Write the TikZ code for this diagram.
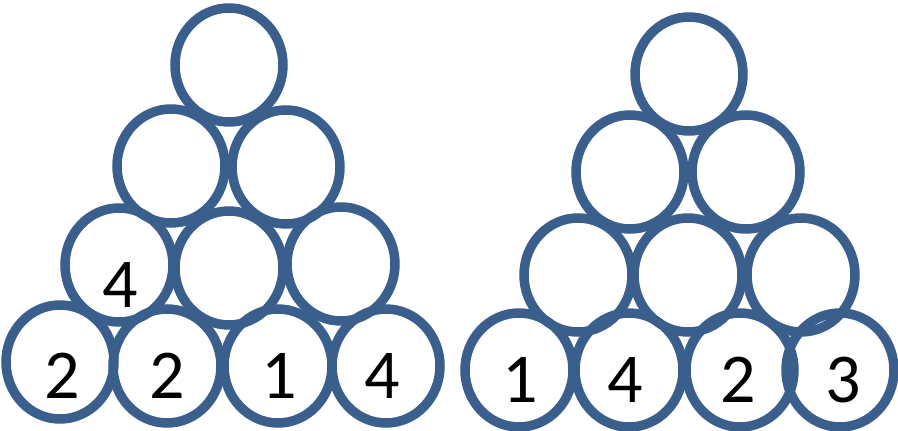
\documentclass[tikz,border=0pt]{standalone}
\usepackage{fontspec}
\setmainfont{Carlito}
\usetikzlibrary{shapes.geometric}
\definecolor{ballblue}{RGB}{58,95,140}
\tikzset{
  ball/.style={ellipse, draw=ballblue, line width=9.5pt, minimum width=108pt, minimum height=114pt, inner sep=0pt, outer sep=0pt},
  num/.style={inner sep=0pt, font=\fontsize{70}{70}\selectfont, text=black}
}
\begin{document}
\begin{tikzpicture}[x=1pt,y=-1pt]
\useasboundingbox (0,0) rectangle (898,431);
% left pyramid
\node[ball] (La) at (229,65) {};
\node[ball] (Lb1) at (171,166) {};
\node[ball] (Lb2) at (286,167) {};
\node[ball] (Lc1) at (119,265) {};
\node[ball] (Lc2) at (229,268) {};
\node[ball] (Lc3) at (341,264) {};
\node[ball] (Ld1) at (60,362) {};
\node[ball] (Ld2) at (167,366) {};
\node[ball] (Ld3) at (278,366) {};
\node[ball] (Ld4) at (386,366) {};
\node[num] (tLc1) at (120,285) {4};
\node[num] (tLd1) at (62,376) {2};
\node[num] (tLd2) at (167,376) {2};
\node[num] (tLd3) at (279,376) {1};
\node[num] (tLd4) at (382,376) {4};
% right pyramid
\node[ball] (Ra) at (689,74) {};
\node[ball] (Rb1) at (630,172) {};
\node[ball] (Rb2) at (746,172) {};
\node[ball] (Rc1) at (578,275) {};
\node[ball] (Rc2) at (688,275) {};
\node[ball] (Rc3) at (801,275) {};
\node[ball] (Rd1) at (519,370) {};
\node[ball] (Rd2) at (629,370) {};
\node[ball] (Rd3) at (740,370) {};
\node[ball] (Rd4) at (840,370) {};
\node[num] (tRd1) at (520,380) {1};
\node[num] (tRd2) at (625,380) {4};
\node[num] (tRd3) at (738,380) {2};
\node[num] (tRd4) at (843,380) {3};
\end{tikzpicture}
\end{document}
